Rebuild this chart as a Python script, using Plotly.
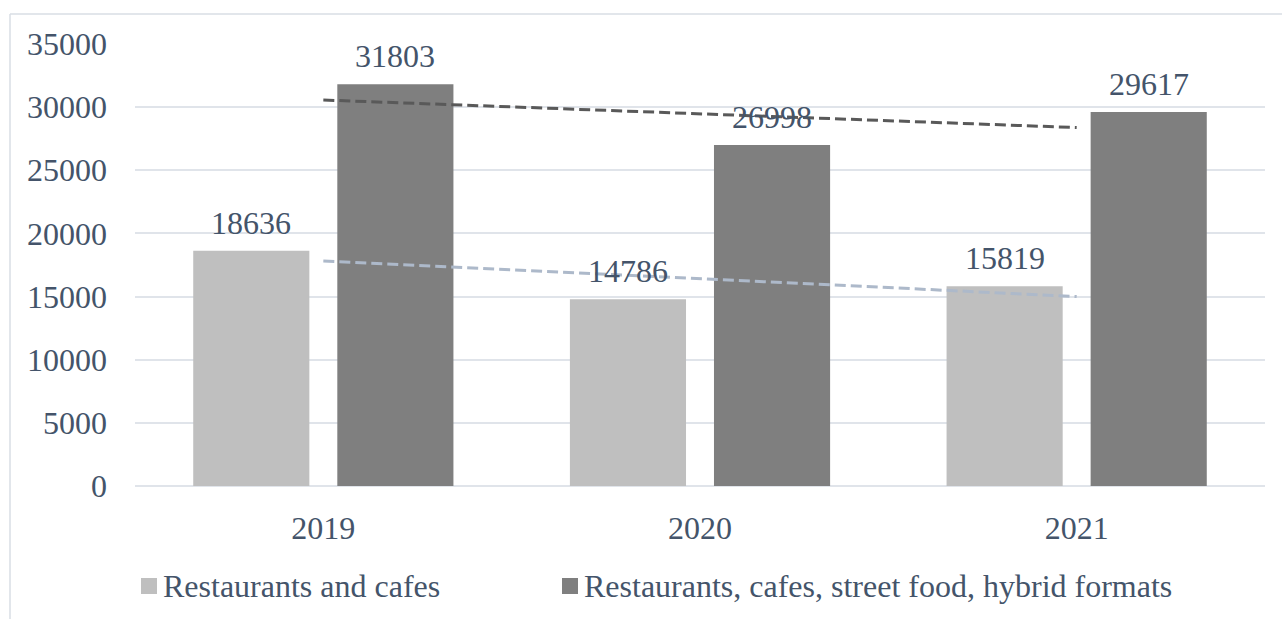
import plotly.graph_objects as go

# Chart data
years = ["2019", "2020", "2021"]
restaurants_cafes = [18636, 14786, 15819]
all_formats = [31803, 26998, 29617]
series_names = ["Restaurants and cafes", "Restaurants, cafes, street food, hybrid formats"]
y_ticks = [0, 5000, 10000, 15000, 20000, 25000, 30000, 35000]

TEXT = "#44546A"
FONT = "Liberation Serif"
FS = 32
LIGHT, DARK = "#BFBFBF", "#7F7F7F"
TREND_LIGHT, TREND_DARK = "#ADB9CA", "#595959"

W, H = 1282, 619
L, R, T, B = 135, 17, 44, 133


def linear_trend(vals):
    n = len(vals)
    xs = list(range(1, n + 1))
    mx = sum(xs) / n
    my = sum(vals) / n
    slope = sum((x - mx) * (v - my) for x, v in zip(xs, vals)) / sum((x - mx) ** 2 for x in xs)
    return [my + slope * (xs[0] - mx), my + slope * (xs[-1] - mx)]


fig = go.Figure()
fig.add_bar(x=years, y=restaurants_cafes, name=series_names[0], marker_color=LIGHT,
            marker_line_width=0, showlegend=False)
fig.add_bar(x=years, y=all_formats, name=series_names[1], marker_color=DARK,
            marker_line_width=0, showlegend=False)

# Linear trendlines across first and last category
for vals, col in [(restaurants_cafes, TREND_LIGHT), (all_formats, TREND_DARK)]:
    fig.add_scatter(x=[years[0], years[-1]], y=linear_trend(vals), mode="lines",
                    line=dict(color=col, width=3, dash="11px,5px"),
                    showlegend=False, hoverinfo="skip")

# Value labels above bars (x given as category index)
ann = []
for vals, shift in [(restaurants_cafes, -72), (all_formats, 72)]:
    for i, v in enumerate(vals):
        ann.append(dict(x=i, y=v, text=str(v), showarrow=False, xshift=shift,
                        yanchor="bottom", yshift=8,
                        font=dict(family=FONT, size=FS, color=TEXT)))

pw, ph = W - L - R, H - T - B


def px_x(p):
    return (p - L) / pw


def px_y(p):
    return (H - B - p) / ph


# Legend drawn by hand
shapes = []
legend_items = [(141, LIGHT, series_names[0]), (562, DARK, series_names[1])]
for x0, col, name in legend_items:
    shapes.append(dict(type="rect", xref="paper", yref="paper",
                       x0=px_x(x0), x1=px_x(x0 + 16), y0=px_y(594), y1=px_y(578),
                       fillcolor=col, line_width=0))
    ann.append(dict(xref="paper", yref="paper", x=px_x(x0 + 20), y=px_y(586),
                    xanchor="left", yanchor="middle", text=name, showarrow=False,
                    font=dict(family=FONT, size=FS, color=TEXT)))

# Chart frame
frame = "#D9DEE5"
shapes.append(dict(type="line", xref="paper", yref="paper", x0=px_x(10), x1=px_x(1290),
                   y0=px_y(14), y1=px_y(14), line=dict(color=frame, width=1.5)))
shapes.append(dict(type="line", xref="paper", yref="paper", x0=px_x(10), x1=px_x(10),
                   y0=px_y(14), y1=px_y(630), line=dict(color=frame, width=1.5)))

fig.update_layout(
    width=W, height=H,
    margin=dict(l=L, r=R, t=T, b=B),
    paper_bgcolor="white", plot_bgcolor="white",
    barmode="group", bargap=0.235, bargroupgap=0.194,
    font=dict(family=FONT, size=FS, color=TEXT),
    annotations=ann, shapes=shapes,
)
fig.update_xaxes(type="category", range=[-0.5, 2.5], showgrid=False, showline=False,
                 zeroline=False, ticks="", ticklabelstandoff=20,
                 tickfont=dict(family=FONT, size=FS, color=TEXT))
fig.update_yaxes(range=[0, 35000], tickvals=y_ticks, ticktext=[str(t) for t in y_ticks],
                 showgrid=True, gridcolor="#E0E4EA",
                 gridwidth=1.5, zeroline=True, zerolinecolor="#E0E4EA", zerolinewidth=1.5,
                 showline=False, ticks="", ticklabelstandoff=27,
                 tickfont=dict(family=FONT, size=FS, color=TEXT))

fig.write_html("out.html")
